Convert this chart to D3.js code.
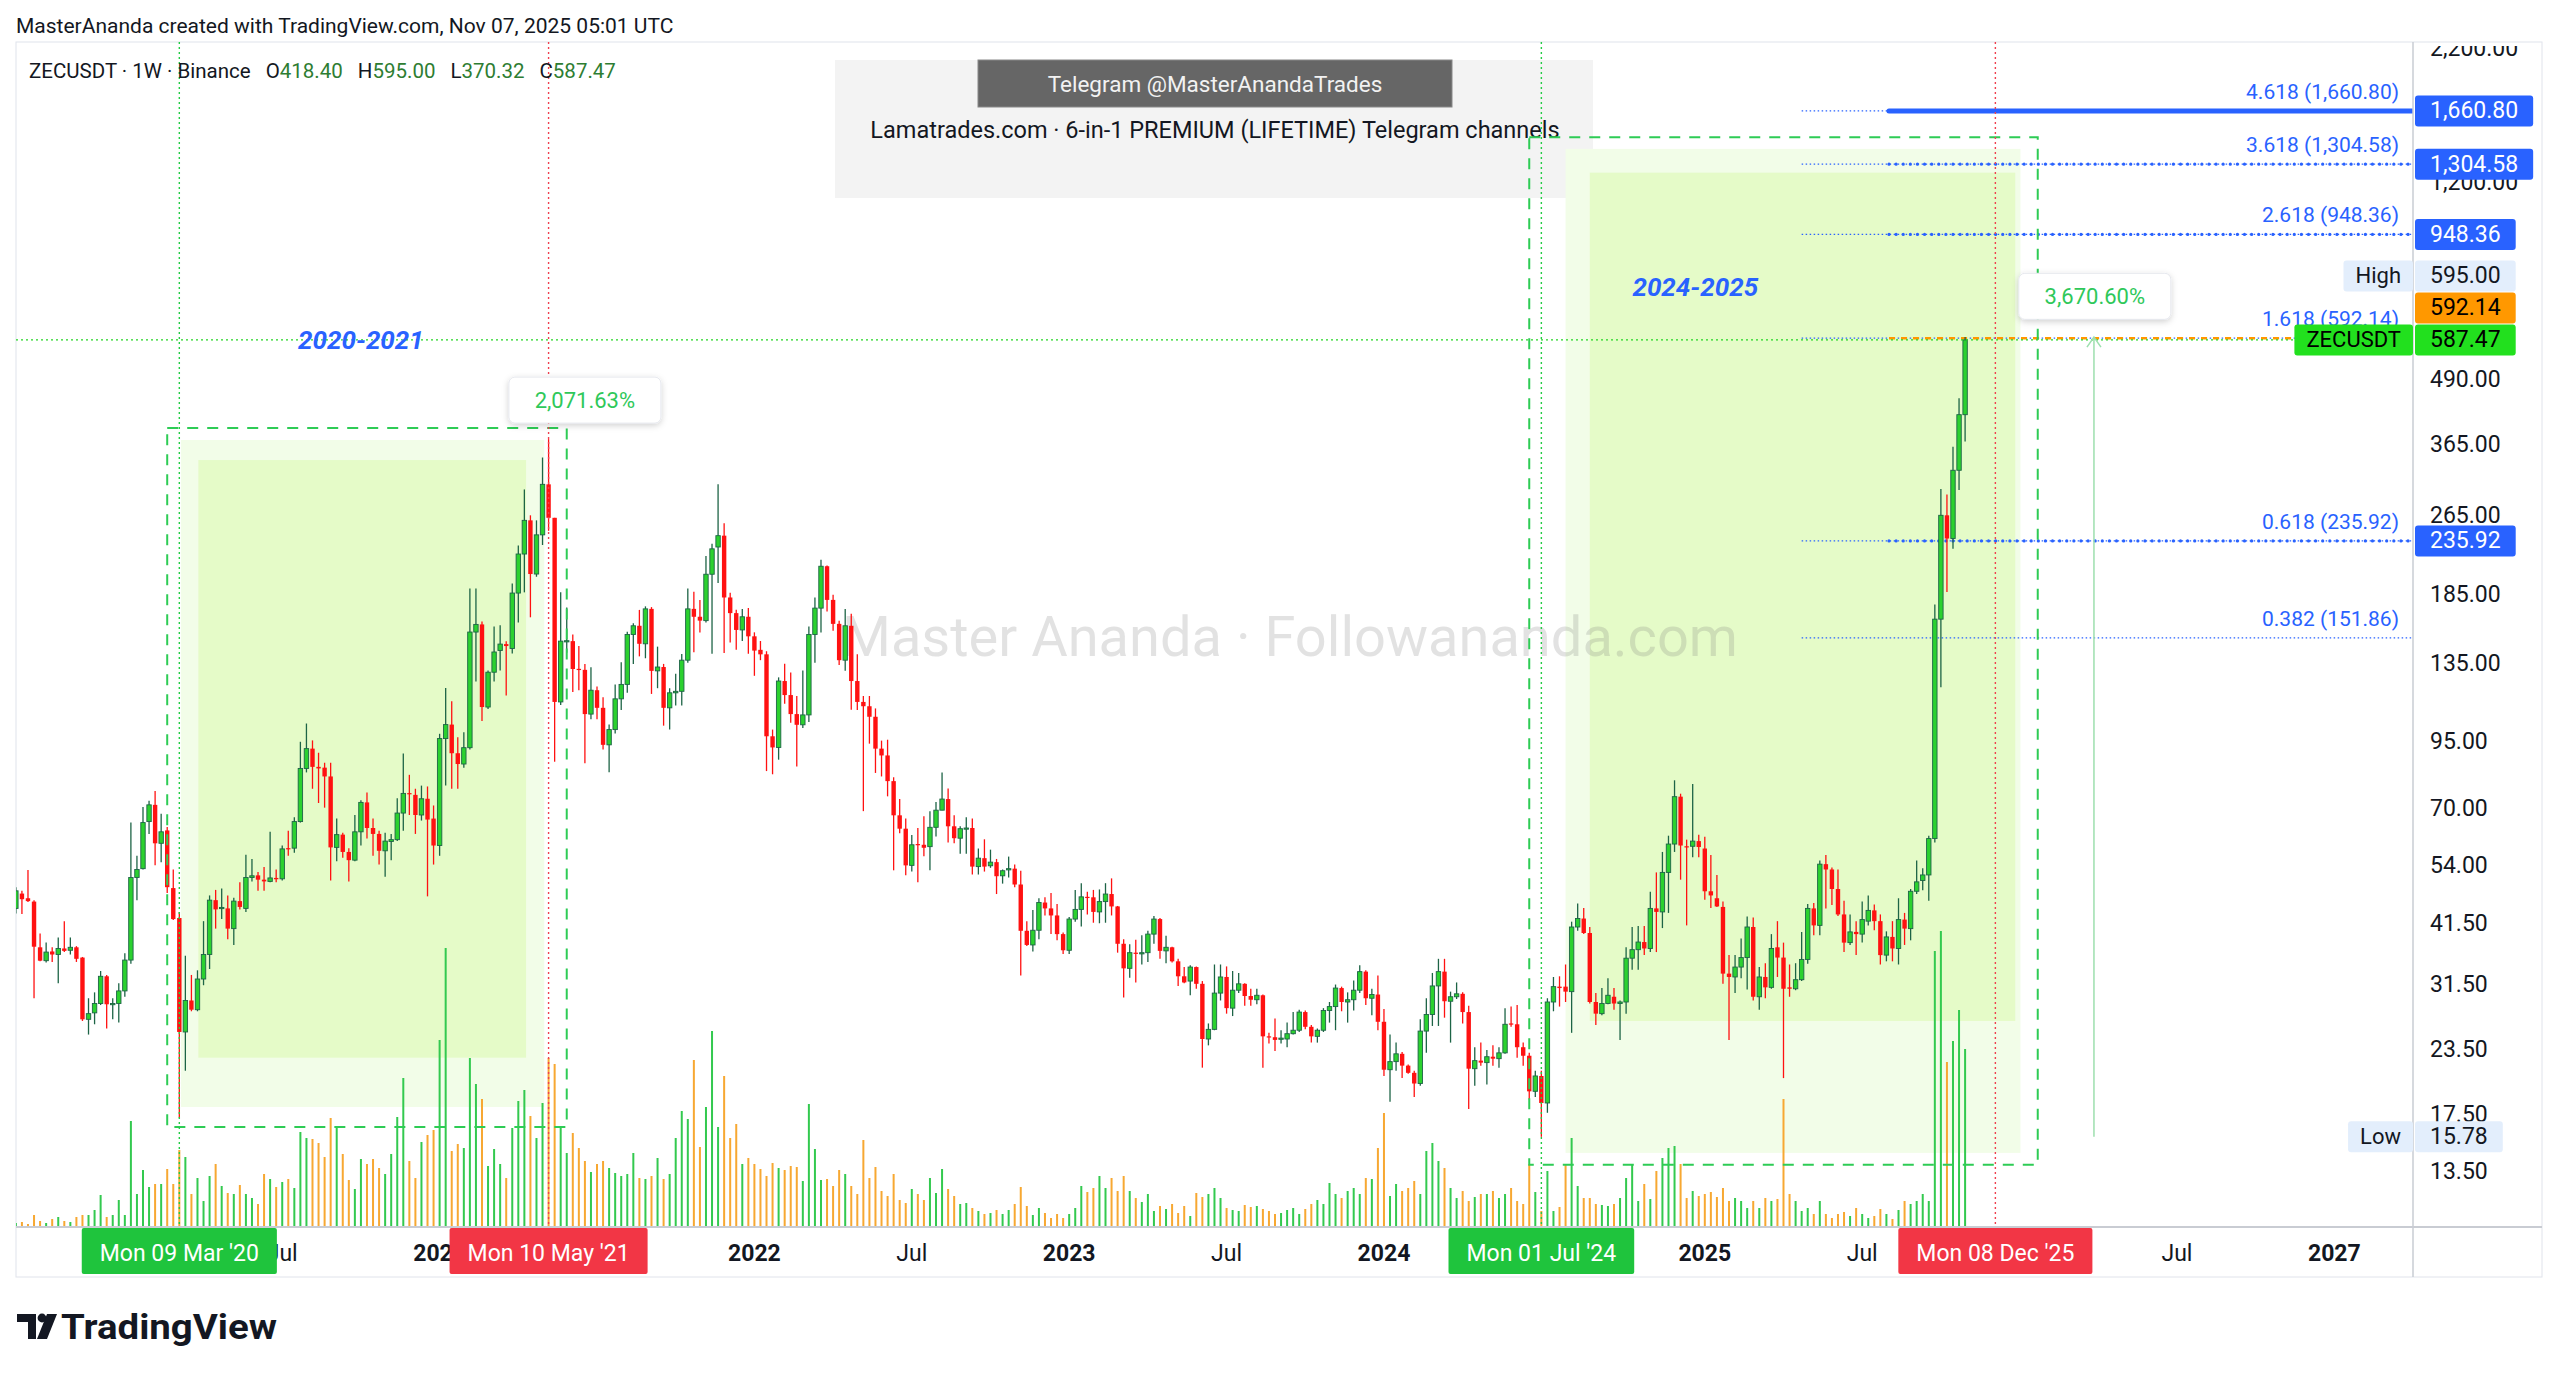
<!DOCTYPE html>
<html>
<head>
<meta charset="utf-8">
<title>ZECUSDT 1W</title>
<script src="https://cdn.jsdelivr.net/npm/d3@7"></script>
<style>
  html, body { margin: 0; padding: 0; background: #fff; }
  svg { display: block; }
  text { font-family: Roboto, "Liberation Sans", Arial, sans-serif; }
</style>
</head>
<body>
<script>
// weekly bars, the first one is Mon 2019-09-02
var firstWeek = "2019-09-02";

var barOpen = [
  44.5,47.6,46.6,45.9,37.3,35.1,36.6,36.1,37.1,36.8,
  37.3,35.6,26.9,27.7,28.9,32.7,28.8,28.9,30.6,35.2,
  51.2,53.3,66,71.2,59.8,63.4,48.8,42.6,25.4,29.3,
  28.1,32.3,36.1,46.2,44.5,44.5,40.6,46,44.5,51.2,
  51.7,50.7,50.3,51.1,50.9,58.5,58.5,66,84,91.9,
  84.6,84.3,81,58.7,62.2,57.5,55.4,63,72,64.1,
  62.4,57.8,60.3,60.8,68.6,75.1,74.5,68,73.2,66.9,
  59.2,96.2,102.5,90,85.7,92.3,156,161.5,111,130,
  143.5,147.7,144.8,186.2,222.3,259,203,242.5,305,262,
  113.6,149.7,149.7,132,131.4,107.5,119.8,110.6,93.5,100.2,
  115.2,123,154.3,160.5,147.9,173.3,130.8,133.1,110.6,118.4,
  119.2,137.3,173.3,167.2,164.3,202.8,229.5,241.6,182.5,170,
  157.5,167.2,153,143.9,141,97.2,92.4,124.9,117.2,107.5,
  102.4,107.1,154.3,173.9,210.3,180.5,161.9,137.3,160.5,124.9,
  113.6,111.4,106.2,91.9,89.1,79.3,67.9,63.9,54.1,59.6,
  59.4,58.9,64.3,69.5,73.1,64.6,61.2,63.9,64.1,53.8,
  55.9,54,54.9,51.6,53,53.3,49.6,40.2,37.7,40.3,
  45.7,44.5,43.1,39.6,36.8,42.4,44.3,46.9,46.8,43.8,
  45.9,47.5,44.9,37.9,33.9,36.4,36.2,36.4,39.6,42.4,
  36.7,37.3,35,32.7,32,34.1,31.6,24.6,25.7,30.3,
  32.6,28.3,30.7,31.6,29.9,29.4,30,24.9,24.8,24.6,
  24.6,25.2,25.6,27.8,26,24.9,25.6,28,28.5,31,
  29.1,29.4,30.7,33.4,29.6,30.1,26.6,21.4,22.2,23,
  21.8,21.1,20.1,25.5,27.5,31.3,33.4,29.2,29.8,30.2,
  27.8,21.5,22.3,22.1,22.7,22.5,23.1,26.4,26.3,23.7,
  22.8,19.4,20.8,18.4,29.1,31.2,31.2,30.5,40.9,42.5,
  39.8,29.1,27.6,28.9,29.8,28.9,29.1,35.5,36.9,38.2,
  37.1,44.5,43.8,52.4,59.6,73.9,59,59,60.4,58.4,
  48.1,46.6,44.8,33.1,32.6,34.1,35.6,40.9,29.8,32.6,
  31.1,37.3,35.6,31.1,30.9,32.2,35.3,44.5,41.2,54.4,
  53.1,48.6,43.3,38.1,40,39.6,42,44.1,42,36,
  39.1,37.1,42.3,40.6,48.1,50.5,51.8,61.1,165.4,265,
  238.5,325.1,418.4
];
var barHigh = [
  49,48.2,53,46.2,39.7,38.1,37.3,39,42,39,
  37.5,35.7,29.6,30.4,33.5,32.9,29.6,31.7,36.3,65.7,
  56.5,70.5,72.5,75.8,68.4,64.4,53.1,43.8,35.9,32.9,
  33.6,42,47.2,48.4,48.7,47.2,46.7,50.1,56.8,55.7,
  52.5,53.7,63,53.1,59.2,63.3,67.3,94.8,103,95.4,
  90.2,86.2,86.2,66.9,62.7,58.5,68,72.7,75.3,66.9,
  63.3,62.7,62.4,73.4,89.9,81.6,76.6,77.7,77.4,71,
  98.3,121,114,96.8,99,190,190,163.7,131,160,
  160.8,149.6,194.5,231,298,265,259,344.5,374.5,262,
  186.8,174.3,154.3,146.4,135,133,121.9,116,102.5,123,
  136,156.2,162.3,172.5,175.3,174.7,146,135,120.9,129.1,
  141.2,190,187.4,180.5,220.4,233,305,255.5,186.5,172.6,
  173.2,174,155.8,149.8,143,100.2,127,135.1,129.8,116.7,
  131,160,182.5,216.7,211,184.7,164.3,173.3,169.6,141,
  116.7,116.7,110.3,95.3,95.7,80.7,73.1,66.9,62.1,64.1,
  67.6,69.2,72.1,82.5,76.7,67.9,64.6,67.3,66.9,58.4,
  60.9,58.1,55.7,53.1,56.3,54.3,52.8,42,44.2,46.6,
  46.8,47.7,45.4,39.9,42.8,48.4,49.9,48,48.4,48.5,
  49.9,51,45,38.7,37.8,38.6,39.4,40.2,43,42.6,
  39.3,37.4,35.4,34.1,34.4,34.2,32,26.4,34.5,34.5,
  34.2,33.5,33.2,31.7,30.9,30.9,30.1,25.3,27,25.6,
  26.5,27.8,28.1,28,26.2,25.8,28.3,29.1,31.5,31.2,
  30.4,32.1,34.4,33.6,30.9,32.8,28.2,25.1,24.2,23.2,
  21.9,21.3,26.9,29.6,33.2,35.4,35.4,30.5,31.8,30.4,
  28.6,23.7,24.2,23.4,23.9,23.7,28.3,28.5,28.7,24.2,
  23.1,21.3,21.3,29.6,32.6,32.7,34.5,41.9,45.5,44.6,
  40.9,30.3,31,32.4,31,29.3,37.3,40.9,41.1,41.1,
  48,52.4,57.5,61.9,79.6,74.9,60.8,78.3,62.2,61.6,
  56.7,51.8,45.9,36,36,38.8,42.9,42.7,34.1,34.7,
  39.6,42,38.1,34.5,34.7,40,45.4,45.6,55.3,56.7,
  53.6,53.1,46.1,43.3,42,45.9,47.2,45.3,43.3,40.1,
  42,46.6,43.6,48.6,55.3,53.4,61.9,176.8,298.7,291.2,
  361.7,450.8,595
];
var barLow = [
  43.5,43.4,45.8,29.6,35,34.8,34.9,31.7,36.5,36.1,
  34.9,26.7,25.1,26.3,28.7,25.8,26.9,26.5,29.8,34.6,
  46.2,53.1,62.4,54.1,54.9,47.7,42.2,17.2,21.3,27.9,
  27.9,31.4,33.8,40.6,42.4,38.7,37.7,44.3,43.8,50.3,
  48.2,48.2,50.1,50.1,50.5,56.5,57.3,65.7,82.5,76.6,
  71.8,70.3,50.5,55.1,56,50.3,55.1,59.2,61.1,56.5,
  54.3,51.4,55.4,60.4,63.3,68,62.4,66.3,47,54.3,
  56.5,77.7,76.6,76.6,84.3,91.5,124.6,104.2,110,124.6,
  131,117,141.5,162.9,186.8,166.8,200.5,231.6,247,86.6,
  112,142,118.8,119.8,86,105,105,91.5,82.6,98.4,
  109.5,118.4,135,139.7,138.5,117.8,120.9,102,100.2,111.8,
  111.8,135.7,142.4,155.6,163,141.3,195,141.8,148.7,143.9,
  149.8,141.3,127.9,137.3,83,81.8,87.4,112.6,103.4,84.7,
  100.9,103.7,135.7,155.6,171.3,157,134.4,130.8,109.6,109.5,
  69.2,94,82.3,81,74,52.9,62.6,51.7,52.6,50.1,
  56.4,52.9,61.7,69.5,60,59.8,57,57,51.9,51.9,
  52.6,53.5,47.5,49.8,51.2,49,32.8,37.5,36.6,38.7,
  43.1,39.6,38.5,36.2,36.2,41.9,41,43.3,41.7,41.6,
  41.7,43.1,36.4,29.7,32.5,31.8,34.5,34.9,37.9,35.4,
  34.7,34.8,31.3,31.7,30,30.9,21.6,23.9,25.6,29.3,
  27.6,27.3,30.3,28.6,28.6,28.8,21.6,24.1,23.3,24.1,
  23.7,25.1,25.4,25.7,24.2,24.2,25.4,26.5,25.6,27.9,
  26.5,28,30.3,28.7,27.4,25.6,20.8,18.5,21.3,20.6,
  21,18.9,19.9,23.1,26.1,26.1,27.1,24.2,29.5,26.4,
  17.9,19.9,21.8,20,21.8,21.6,23,26,22.6,21.8,
  18.7,18.9,15.78,17.6,27.9,28.5,29.1,25.3,40.2,39.6,
  28.9,26.2,27.4,28.8,28.1,24.5,27.6,33.7,33.7,36,
  36.5,36.5,40.7,43.6,57.5,50.7,41.2,56.1,56.1,46.3,
  44.6,44.8,31.6,24.5,30.3,32.4,30.8,29.3,28.1,29.6,
  30.9,32.6,20.6,29.8,30.7,32,34.6,39.4,39.4,44.5,
  45.2,43,36.5,37.7,36,38.1,41.2,40.3,34.5,35,
  35,34.5,37.7,38.5,47.5,48.3,46.1,60,121.4,187.1,
  227.8,297.3,370.32
];
var barClose = [
  48.2,46.4,46.0,37.4,35.1,36.5,36.1,37.1,36.7,37.3,
  35.4,26.9,27.6,28.9,32.7,28.8,28.9,30.6,35.2,51.2,
  53.1,65.7,71.2,59.8,63,49,42.4,25.4,29.3,28.1,
  32.3,36.1,46.2,44.3,44.7,40.6,46,44.8,51.2,51.6,
  50.7,50.3,51.1,50.8,58.3,58.3,66,84,91.9,84.6,
  84,81,58.7,62.2,57.5,55.4,63,72,64.1,62.4,
  57.8,60.4,60.8,68.6,75,74.7,68,73.2,66.6,59.2,
  96.2,102.5,90,85.7,92.3,156,161.5,111,130,142.5,
  147.7,146.4,186.2,222.3,259,203,242.5,305,262,113.6,
  149.7,150,131.9,131.4,107.5,119.8,110.6,93.5,100.2,115.2,
  123,154.3,160.5,147.9,173.3,130.8,133.1,110.6,118.4,119.2,
  137.3,173.3,167.2,164.3,202.8,227.6,241.6,182.5,170,157.5,
  167.2,153,143.4,141,97.2,92.4,124.9,117.2,107.5,102.4,
  107.1,154.3,173.9,210.3,180.5,161.9,137.3,160.5,124.9,113.6,
  111.4,106.2,91.9,89.1,79.3,67.9,63.9,54.1,59.4,59.4,
  58.6,64.3,69.5,73.1,64.6,61.2,63.9,64.1,53.8,55.9,
  53.8,54.9,51.5,52.8,53.3,49.6,40.2,37.7,40.3,45.7,
  44.5,43.1,39.6,36.8,42.4,44.3,46.9,46.8,43.8,45.9,
  47.5,44.9,37.9,33.9,36.4,36.2,36.4,39.6,42.4,36.7,
  37.3,35,32.7,31.8,34.1,31.6,24.6,25.7,30.3,32.6,
  28.3,30.7,31.6,29.9,29.4,30,24.9,24.8,24.5,24.7,
  25.2,25.6,27.8,26,24.9,25.6,28,28.5,31,29.1,
  29.4,30.7,33.4,29.6,30.1,26.6,21.4,22.2,23,21.8,
  21.1,20.1,25.5,27.5,31.3,33.4,29.2,29.8,30.2,27.8,
  21.5,22.3,22.1,22.7,22.5,23.1,26.3,26.3,23.7,22.8,
  19.4,20.8,18.4,29.1,31.2,31,30.5,40.9,42.5,39.8,
  29.1,27.6,28.9,30,28.9,29.1,35.5,36.9,38.2,37.1,
  44.5,43.8,52.4,59.6,73.9,59.2,58.8,60.4,58.8,48.1,
  47.2,44.9,33.1,32.6,34.1,35.6,40.9,29.8,32.6,31.1,
  37.1,35.6,30.9,30.9,32.2,35.3,44.5,41.2,54.4,53.1,
  48.6,43.3,38.1,40,39.6,42.3,44.1,42,36,39.1,
  37.1,42.3,40.6,48.1,50.2,51.8,61.1,165.4,265,238.5,
  325.1,418.4,587.47
];
// volume, in 10k ZEC
var barVolume = [
  4,5,3,12,6,4,8,10,6,5,10,12,
  12,17,32,10,12,27,12,106,33,57,
  40,43,43,58,43,77,70,
  33,49,26,51,63,41,34,33,42,33,29,23,53,48,
  40,45,48,39,95,89,88,84,70,109,99,73,47,38,68,63,68,59,53,73,
  110,149,66,49,85,92,97,187,279,76,83,79,169,143,128,61,78,63,49,99,
  126,137,111,89,124,169,163,99,74,94,79,66,55,63,66,59,54,51,53,74,
  49,48,51,69,48,53,89,116,108,167,80,120,196,100,151,89,103,63,69,63,
  58,51,64,59,57,61,60,46,123,78,47,48,41,57,53,41,33,87,49,60,
  36,31,53,27,24,38,33,27,49,34,58,38,31,23,24,19,16,13,14,17,
  13,17,23,40,21,12,19,14,9,13,9,13,19,41,35,39,51,39,49,36,
  51,36,29,25,33,16,21,18,23,14,21,11,34,30,33,39,29,19,17,16,
  22,20,21,18,16,13,14,17,19,13,18,23,27,23,44,33,29,36,39,33,
  49,48,79,114,31,43,36,39,46,33,76,84,66,59,39,29,36,26,30,33,
  33,36,29,33,39,26,23,63,35,16,56,16,20,63,89,41,29,29,23,22,
  21,23,29,49,63,26,43,28,56,69,79,81,63,29,36,31,33,35,30,39,
  26,29,26,19,26,19,29,26,28,128,33,26,16,19,13,26,13,9,13,15,
  11,19,13,9,11,18,13,8,17,26,23,26,33,26,
  276,296,165,186,217,178
];

// log price axis labels as TradingView printed them
var priceTicks = [13.5, 17.5, 23.5, 31.5, 41.5, 54, 70, 95, 135, 185, 265, 365, 490, 900, 1200, 2200];

// fib extension drawn on the 2024-2025 move
var fibRatios = [0.382, 0.618, 1.618, 2.618, 3.618, 4.618];
var fibPrices = [151.86, 235.92, 592.14, 948.36, 1304.58, 1660.80];
var fibFrom = "2025-04-28";
var fibHeavyFrom = "2025-08-07";

// marked weeks (cycle start / cycle top)
var markDates = ["2020-03-09", "2021-05-10", "2024-07-01", "2025-12-08"];
var markIsStart = [true, false, true, false];

// the two cycles: dashed measure box, outer and inner fills, labels
var cycleNames = ["2020-2021", "2024-2025"];
var cycleGains = ["2,071.63%", "3,670.60%"];
var boxDates = [["2020-02-24", "2021-05-31"], ["2024-06-17", "2026-01-26"]];
var boxPrices = [[16.5, 394], [13.9, 1474]];
var outerDates = [["2020-03-11", "2021-05-05"], ["2024-07-29", "2026-01-06"]];
var outerPrices = [[18.07, 373], [14.67, 1398]];
var innerDates = [["2020-03-31", "2021-04-14"], ["2024-08-26", "2025-12-31"]];
var innerPrices = [[22.6, 340.5], [26.7, 1255]];
var nameAt = [["2020-10-05", 588], ["2024-12-26", 747]];
var gainAt = [["2021-06-21", 447], ["2026-04-02", 716]];
var arrowDate = "2026-04-01";

var lastPrice = 587.47, highPrice = 595.00, lowPrice = 15.78;
var legendValues = ["418.40", "595.00", "370.32", "587.47"];

// ---------------------------------------------------------------
var W = 2560, H = 1377;
var plot = {left: 16, right: 2413, top: 42, bottom: 1227};
var paneRight = 2542, timeBottom = 1277;

var parse = d3.utcParse("%Y-%m-%d");
var x = d3.scaleUtc()
    .domain([parse("2022-01-03"), parse("2025-01-06")])
    .range([754.4, 1704.8]);
var y = d3.scaleLog()
    .domain([10.48, 2271])
    .range([plot.bottom, plot.top]);
var yVol = d3.scaleLinear().domain([0, 1000]).range([plot.bottom, plot.bottom - 1000]);

var start = parse(firstWeek);
var n = Math.min(barOpen.length, barHigh.length, barLow.length, barClose.length, barVolume.length);
var bars = d3.range(n).map(function(i) {
  return {date: d3.utcDay.offset(start, 7 * i), o: barOpen[i], h: barHigh[i], l: barLow[i], c: barClose[i], v: barVolume[i]};
});

var UP = "#2bd12f", UP_EDGE = "#1d6446", DOWN = "#ff1111";
var VOL_UP = "#33c94f", VOL_DOWN = "#f7a832";
var BLUE = "#2962ff", GREEN_MARK = "#1fc43d", RED_MARK = "#f23645";
var TXT = "#131722";

var svg = d3.select("body").append("svg").attr("width", W).attr("height", H);
var defs = svg.append("defs");
defs.append("clipPath").attr("id", "plotClip").append("rect")
    .attr("x", plot.left).attr("y", plot.top)
    .attr("width", plot.right - plot.left).attr("height", plot.bottom - plot.top);
defs.append("clipPath").attr("id", "axisClip").append("rect")
    .attr("x", plot.right).attr("y", plot.top + 4)
    .attr("width", paneRight - plot.right).attr("height", plot.bottom - plot.top - 4);
var shadow = defs.append("filter").attr("id", "shadow")
    .attr("x", "-20%").attr("y", "-30%").attr("width", "140%").attr("height", "170%");
shadow.append("feDropShadow").attr("dx", 0).attr("dy", 2).attr("stdDeviation", 3)
    .attr("flood-color", "#000").attr("flood-opacity", 0.18);

svg.append("rect").attr("width", W).attr("height", H).attr("fill", "#fff");

// header
svg.append("text").attr("x", 16).attr("y", 26).attr("dominant-baseline", "central")
    .attr("font-size", 21).attr("fill", TXT)
    .text("MasterAnanda created with TradingView.com, Nov 07, 2025 05:01 UTC");

// chart frame
svg.append("rect").attr("x", plot.left).attr("y", plot.top)
    .attr("width", paneRight - plot.left).attr("height", timeBottom - plot.top)
    .attr("fill", "#fff").attr("stroke", "#e0e3eb");

var P = svg.append("g").attr("clip-path", "url(#plotClip)");

// telegram banner
P.append("rect").attr("x", 835).attr("y", 60).attr("width", 758).attr("height", 138).attr("fill", "#f3f3f3");
P.append("rect").attr("x", 978).attr("y", 60).attr("width", 474).attr("height", 47)
    .attr("fill", "#666").attr("stroke", "#888");
P.append("text").attr("x", 1215).attr("y", 84).attr("text-anchor", "middle").attr("dominant-baseline", "central")
    .attr("font-size", 22.5).attr("fill", "#f2f2f2").text("Telegram @MasterAnandaTrades");
P.append("text").attr("x", 1215).attr("y", 130).attr("text-anchor", "middle").attr("dominant-baseline", "central")
    .attr("font-size", 23.5).attr("fill", TXT).text("Lamatrades.com \u00b7 6-in-1 PREMIUM (LIFETIME) Telegram channels");

// cycle fills
function zone(g, dates, prices, fill) {
  var x0 = x(parse(dates[0])), x1 = x(parse(dates[1]));
  var y0 = y(prices[1]), y1 = y(prices[0]);
  g.append("rect").attr("x", x0).attr("y", y0).attr("width", x1 - x0).attr("height", y1 - y0).attr("fill", fill);
}
cycleNames.forEach(function(_, i) {
  zone(P, outerDates[i], outerPrices[i], "#f2fde8");
  zone(P, innerDates[i], innerPrices[i], "#e5fbc8");
});

// watermark
P.append("text").attr("x", 1290).attr("y", 637).attr("text-anchor", "middle").attr("dominant-baseline", "central")
    .attr("font-size", 56).attr("fill", "rgba(110,110,110,0.2)")
    .text("Master Ananda \u00b7 Followananda.com");

// volume
P.append("g").selectAll("rect").data(bars).enter().append("rect")
    .attr("x", function(d) { return x(d.date) - 1; })
    .attr("width", 2)
    .attr("y", function(d) { return yVol(d.v); })
    .attr("height", function(d) { return yVol(0) - yVol(d.v); })
    .attr("fill", function(d) { return d.c >= d.o ? VOL_UP : VOL_DOWN; });

// fib levels
var fx0 = x(parse(fibFrom)), fx1 = x(parse(fibHeavyFrom));
fibRatios.forEach(function(r, i) {
  var yy = y(fibPrices[i]);
  P.append("line").attr("x1", fx0).attr("x2", plot.right).attr("y1", yy).attr("y2", yy)
      .attr("stroke", BLUE).attr("stroke-width", 1.2).attr("stroke-dasharray", "1.5,2.5");
  if (r === 4.618) {
    P.append("line").attr("x1", fx1).attr("x2", plot.right).attr("y1", yy).attr("y2", yy)
        .attr("stroke", BLUE).attr("stroke-width", 5).attr("stroke-linecap", "round");
  } else if (r === 1.618) {
    P.append("line").attr("x1", fx1).attr("x2", plot.right).attr("y1", yy).attr("y2", yy)
        .attr("stroke", "#ff9800").attr("stroke-width", 2.5).attr("stroke-dasharray", "6,6");
  } else if (r > 0.5) {
    P.append("line").attr("x1", fx1).attr("x2", plot.right).attr("y1", yy).attr("y2", yy)
        .attr("stroke", BLUE).attr("stroke-width", 3.2).attr("stroke-linecap", "round")
        .attr("stroke-dasharray", "0.01,7.1");
  }
  P.append("text").attr("x", plot.right - 14).attr("y", yy - 19)
      .attr("text-anchor", "end").attr("dominant-baseline", "central")
      .attr("font-size", 21).attr("fill", BLUE)
      .text(r.toFixed(3) + " (" + d3.format(",.2f")(fibPrices[i]) + ")");
});

// candles
var C = P.append("g");
var cg = C.selectAll("g").data(bars).enter().append("g");
cg.append("line")
    .attr("x1", function(d) { return x(d.date); }).attr("x2", function(d) { return x(d.date); })
    .attr("y1", function(d) { return y(d.h); }).attr("y2", function(d) { return y(d.l); })
    .attr("stroke", function(d) { return d.c >= d.o ? UP_EDGE : DOWN; })
    .attr("stroke-width", 1.3);
cg.append("rect")
    .attr("x", function(d) { return x(d.date) - 2.2; })
    .attr("width", 4.4)
    .attr("y", function(d) { return y(Math.max(d.o, d.c)); })
    .attr("height", function(d) { return Math.max(1.2, Math.abs(y(d.o) - y(d.c))); })
    .attr("fill", function(d) { return d.c >= d.o ? UP : DOWN; })
    .attr("stroke", function(d) { return d.c >= d.o ? UP_EDGE : "none"; })
    .attr("stroke-width", 0.9);

// last price line
P.append("line").attr("x1", plot.left).attr("x2", plot.right).attr("y1", y(lastPrice)).attr("y2", y(lastPrice))
    .attr("stroke", "#22d622").attr("stroke-width", 1.4).attr("stroke-dasharray", "2,3");

// measure boxes
cycleNames.forEach(function(name, i) {
  var x0 = x(parse(boxDates[i][0])), x1 = x(parse(boxDates[i][1]));
  var y0 = y(boxPrices[i][1]), y1 = y(boxPrices[i][0]);
  P.append("rect").attr("x", x0).attr("y", y0).attr("width", x1 - x0).attr("height", y1 - y0)
      .attr("fill", "none").attr("stroke", "#2ecc55").attr("stroke-width", 2).attr("stroke-dasharray", "11,9");
  P.append("text").attr("x", x(parse(nameAt[i][0]))).attr("y", y(nameAt[i][1]))
      .attr("text-anchor", "middle").attr("dominant-baseline", "central")
      .attr("font-size", 26).attr("font-weight", "bold").attr("font-style", "italic")
      .attr("fill", BLUE).text(name);
});

// measure arrow of the 2024-2025 move
var ax = x(parse(arrowDate));
P.append("line").attr("x1", ax).attr("x2", ax).attr("y1", y(lowPrice)).attr("y2", y(highPrice))
    .attr("stroke", "#9ddfae").attr("stroke-width", 1.5);
P.append("path").attr("d", "M" + (ax - 7) + "," + (y(highPrice) + 10) + "L" + ax + "," + y(highPrice) + "L" + (ax + 7) + "," + (y(highPrice) + 10))
    .attr("fill", "none").attr("stroke", "#9ddfae").attr("stroke-width", 1.5);

// marked weeks (dotted verticals)
markDates.forEach(function(d, i) {
  var xx = x(parse(d));
  svg.append("line").attr("x1", xx).attr("x2", xx).attr("y1", plot.top).attr("y2", plot.bottom)
      .attr("stroke", markIsStart[i] ? "#22cc44" : "#f0404f").attr("stroke-width", 1.4)
      .attr("stroke-dasharray", "2,3");
});

// gain labels
cycleGains.forEach(function(g, i) {
  var cx = x(parse(gainAt[i][0])), cy = y(gainAt[i][1]);
  svg.append("rect").attr("x", cx - 76).attr("y", cy - 23).attr("width", 152).attr("height", 46)
      .attr("rx", 6).attr("fill", "#fff").attr("stroke", "#e6e8ee").attr("filter", "url(#shadow)");
  svg.append("text").attr("x", cx).attr("y", cy).attr("text-anchor", "middle").attr("dominant-baseline", "central")
      .attr("font-size", 22).attr("fill", "#2fc85a").text(g);
});

// pane separators
svg.append("line").attr("x1", plot.right).attr("x2", plot.right).attr("y1", plot.top).attr("y2", timeBottom)
    .attr("stroke", "#c9ccd3").attr("stroke-width", 1.5);
svg.append("line").attr("x1", plot.left).attr("x2", paneRight).attr("y1", plot.bottom).attr("y2", plot.bottom)
    .attr("stroke", "#c9ccd3").attr("stroke-width", 2);

function textWidth(str, size) {
  var t = svg.append("text").attr("font-size", size).text(str);
  var w = t.node().getComputedTextLength();
  t.remove();
  return w;
}

// price-axis labels of the drawings, pushed up so they do not overlap
var axisLabels = [
  {p: lowPrice, bg: "#e3eefc", fg: TXT, tag: "Low"},
  {p: fibPrices[1], bg: BLUE, fg: "#fff"},
  {p: lastPrice, bg: "#22e01e", fg: "#000", tag: "ZECUSDT", tagBg: "#22e01e"},
  {p: fibPrices[2], bg: "#ff9800", fg: "#000"},
  {p: highPrice, bg: "#e3eefc", fg: TXT, tag: "High"},
  {p: fibPrices[3], bg: BLUE, fg: "#fff"},
  {p: fibPrices[4], bg: BLUE, fg: "#fff"},
  {p: fibPrices[5], bg: BLUE, fg: "#fff"}
];
var LH = 32, prevY = Infinity;
axisLabels.forEach(function(l) {
  l.y = Math.min(y(l.p), prevY - LH);
  prevY = l.y;
});

// price axis ticks (a tick sitting under a label box is not printed)
var A = svg.append("g").attr("clip-path", "url(#axisClip)");
var shownTicks = priceTicks.filter(function(t) {
  var ty = y(t);
  return !axisLabels.some(function(l) { return Math.abs(l.y - ty) < LH / 2; });
});
A.selectAll("text.tick").data(shownTicks).enter().append("text")
    .attr("x", plot.right + 17).attr("y", function(d) { return y(d); })
    .attr("dominant-baseline", "central").attr("font-size", 23).attr("fill", TXT)
    .text(d3.format(",.2f"));

axisLabels.forEach(function(l) {
  var str = d3.format(",.2f")(l.p);
  var w = textWidth(str, 23) + 30;
  svg.append("rect").attr("x", plot.right + 2).attr("y", l.y - LH / 2 + 0.5).attr("width", w).attr("height", LH - 1)
      .attr("rx", 3).attr("fill", l.bg);
  svg.append("text").attr("x", plot.right + 17).attr("y", l.y).attr("dominant-baseline", "central")
      .attr("font-size", 23).attr("fill", l.fg).text(str);
  if (l.tag) {
    var tw = textWidth(l.tag, 22) + 24;
    svg.append("rect").attr("x", plot.right - tw).attr("y", l.y - LH / 2 + 0.5).attr("width", tw).attr("height", LH - 1)
        .attr("rx", 3).attr("fill", l.tagBg || l.bg);
    svg.append("text").attr("x", plot.right - tw / 2).attr("y", l.y).attr("text-anchor", "middle")
        .attr("dominant-baseline", "central").attr("font-size", 22).attr("fill", l.fg).text(l.tag);
  }
});

// time axis
var timeY = 1253;
var fmtMark = d3.utcFormat("%a %d %b '%y");
var markBoxes = markDates.map(function(d) {
  var xx = x(parse(d)), str = fmtMark(parse(d));
  var w = textWidth(str, 23) + 36;
  return {x0: xx - w / 2, x1: xx + w / 2, cx: xx, str: str};
});
var weeks = d3.utcMonday.range(parse("2020-01-01"), parse("2027-02-01"));
var timeTicks = weeks.filter(function(d) {
  if (!((d.getUTCMonth() === 0 || d.getUTCMonth() === 6) && d.getUTCDate() <= 7)) return false;
  // ticks whose label sits entirely under a marked-week box are not printed
  var xx = x(d);
  return !markBoxes.some(function(b) { return xx - 22 > b.x0 && xx + 22 < b.x1; });
});
svg.append("g").selectAll("text").data(timeTicks).enter().append("text")
    .attr("x", function(d) { return x(d); }).attr("y", timeY)
    .attr("text-anchor", "middle").attr("dominant-baseline", "central")
    .attr("font-size", 23).attr("fill", TXT)
    .attr("font-weight", function(d) { return d.getUTCMonth() === 0 ? "bold" : "normal"; })
    .text(function(d) { return d.getUTCMonth() === 0 ? d.getUTCFullYear() : "Jul"; });

markBoxes.forEach(function(b, i) {
  svg.append("rect").attr("x", b.x0).attr("y", plot.bottom + 1).attr("width", b.x1 - b.x0).attr("height", 46)
      .attr("rx", 2).attr("fill", markIsStart[i] ? GREEN_MARK : RED_MARK);
  svg.append("text").attr("x", b.cx).attr("y", timeY).attr("text-anchor", "middle").attr("dominant-baseline", "central")
      .attr("font-size", 23).attr("fill", "#fff").text(b.str);
});

// legend
var lg = svg.append("text").attr("x", 29).attr("y", 71).attr("dominant-baseline", "central")
    .attr("font-size", 20.5).attr("fill", TXT);
lg.append("tspan").text("ZECUSDT \u00b7 1W \u00b7 Binance");
["O", "H", "L", "C"].forEach(function(k, i) {
  lg.append("tspan").attr("dx", 15).text(k);
  lg.append("tspan").attr("fill", "#2e7d32").text(legendValues[i]);
});

// TradingView logo
var logo = svg.append("g").attr("fill", TXT);
logo.append("path").attr("d", "M17,1314 H36 V1339 H28 V1322 H17 Z");
logo.append("circle").attr("cx", 42).attr("cy", 1318).attr("r", 4.4);
logo.append("path").attr("d", "M47,1314 H57 L47,1339 H37 Z");
svg.append("text").attr("x", 61).attr("y", 1327).attr("dominant-baseline", "central")
    .attr("font-size", 35).attr("font-weight", "bold").attr("fill", TXT)
    .attr("textLength", 216).attr("lengthAdjust", "spacingAndGlyphs")
    .text("TradingView");
</script>
</body>
</html>
